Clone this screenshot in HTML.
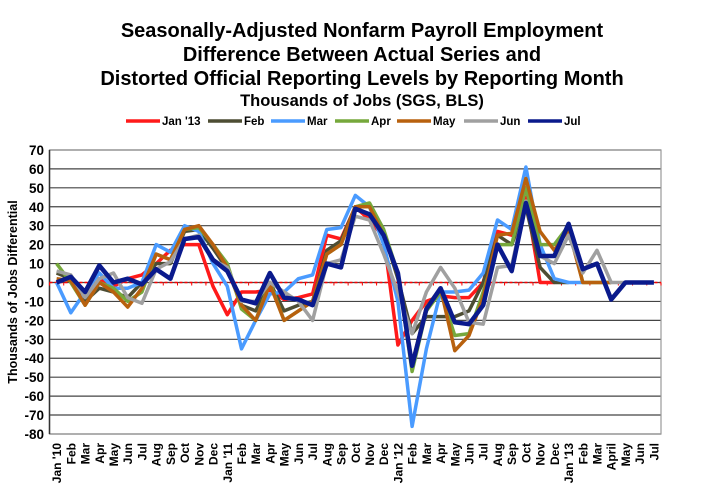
<!DOCTYPE html>
<html><head><meta charset="utf-8"><style>body{margin:0;background:#fff}svg{display:block;font-family:"Liberation Sans",Arial,sans-serif;font-weight:bold}</style></head>
<body>
<svg id="s" width="721" height="503" viewBox="0 0 721 503" xmlns="http://www.w3.org/2000/svg">
<text x="362" y="37" font-size="20" text-anchor="middle">Seasonally-Adjusted Nonfarm Payroll Employment</text>
<text x="362" y="61" font-size="20" text-anchor="middle">Difference Between Actual Series and</text>
<text x="362" y="85" font-size="20" text-anchor="middle">Distorted Official Reporting Levels by Reporting Month</text>
<text x="362" y="106" font-size="16.5" text-anchor="middle">Thousands of Jobs (SGS, BLS)</text>
<text transform="translate(17,292) rotate(-90)" font-size="12.5" text-anchor="middle">Thousands of Jobs Differential</text>
<g id="g"></g>
</svg>
<script>
var s=document.getElementById('g'),ns='http://www.w3.org/2000/svg',h='';
var L=49.5,R=661,T=150,B=434,y0=282.5,k=(B-T)/150,cw=(R-L)/43;
function Y(v){return y0-v*k} function X(i){return L+cw*(i+0.5)}
for(var v=70;v>=-80;v-=10){h+='<line x1="'+L+'" x2="'+R+'" y1="'+Y(v)+'" y2="'+Y(v)+'" stroke="#444" stroke-width="1.2"/>';
h+='<text x="44" y="'+(Y(v)+5)+'" font-size="13.5" text-anchor="end">'+v+'</text>';}
h+='<rect x="'+L+'" y="'+T+'" width="'+(R-L)+'" height="'+(B-T)+'" fill="none" stroke="#999" stroke-width="1.2"/>';
h+='<line x1="'+L+'" x2="'+L+'" y1="'+T+'" y2="'+B+'" stroke="#333" stroke-width="1.5"/>';
h+='<line x1="'+L+'" x2="'+R+'" y1="'+y0+'" y2="'+y0+'" stroke="#f00" stroke-width="1.5" stroke-dasharray="3,2"/>';
for(var i=0;i<=43;i++){h+='<line x1="'+(L+cw*i)+'" x2="'+(L+cw*i)+'" y1="'+y0+'" y2="'+(y0+3)+'" stroke="#f00"/>';}
var lab=["Jan '10","Feb","Mar","Apr","May","Jun","Jul","Aug","Sep","Oct","Nov","Dec","Jan '11","Feb","Mar","Apr","May","Jun","Jul","Aug","Sep","Oct","Nov","Dec","Jan '12","Feb","Mar","Apr","May","Jun","Jul","Aug","Sep","Oct","Nov","Dec","Jan '13","Feb","Mar","April","May","Jun","Jul"];
lab.forEach(function(t,i){h+='<text transform="translate('+(X(i)+4.5)+',443) rotate(-90)" font-size="12" text-anchor="end">'+t+'</text>';});
var S=[
["#ff1a1a",3.5,[0,3,-10,2,-2,2,4,10,17,20,20,-2,-17,-5,-5,-4,-9,-8,-6,25,23,40,33,24,-33,-20,-10,-7,-8,-8,0,27,25,45,0,0]],
["#4d4d33",3.5,[5,2,-10,-3,-5,-8,0,10,10,27,28,18,7,-12,-15,0,-15,-12,-10,17,22,40,40,26,2,-27,-18,-18,-18,-15,0,25,20,40,8,0,0]],
["#4a9bff",3.5,[0,-16,-5,5,-3,-3,0,20,16,30,27,10,-2,-35,-20,-6,-5,2,4,28,29,46,40,20,-10,-76,-35,-5,-5,-4,5,33,28,61,20,2,0,0]],
["#76a83c",3.5,[10,0,-12,0,-3,-10,-5,15,12,28,29,20,10,-14,-20,0,-20,-15,-10,15,20,40,42,28,5,-47,-15,-5,-28,-27,-5,20,20,50,20,20,30,0,0,0]],
["#b8610e",3.5,[2,1,-12,0,-5,-13,-3,15,12,28,30,20,8,-12,-20,-1,-20,-15,-10,15,20,40,40,25,5,-43,-13,-3,-36,-28,-8,25,26,55,27,17,28,0,0,0]],
["#a0a0a0",3.5,[6,4,-8,2,5,-8,-11,7,11,23,25,12,8,-10,-10,0,-5,-10,-20,10,12,35,33,15,-5,-27,-5,8,-3,-21,-22,8,9,43,14,10,25,5,17,0,0]],
["#0a1a8c",4.5,[0,3,-5,9,0,2,-1,7,2,23,24,12,6,-9,-11,5,-8,-9,-12,10,8,39,36,25,5,-44,-14,-3,-21,-22,-12,20,6,42,14,14,31,7,10,-9,0,0,0]]];
S.forEach(function(q){h+='<polyline fill="none" stroke-linejoin="round" stroke="'+q[0]+'" stroke-width="'+q[1]+'" points="'+q[2].map(function(v,i){return X(i).toFixed(1)+','+Y(v).toFixed(1)}).join(' ')+'"/>';});
var lg=[["Jan '13",126],["Feb",208],["Mar",271],["Apr",335],["May",397],["Jun",464],["Jul",528]];
lg.forEach(function(l,i){h+='<line x1="'+l[1]+'" x2="'+(l[1]+34)+'" y1="121" y2="121" stroke="'+S[i][0]+'" stroke-width="3.5"/><text x="'+(l[1]+36)+'" y="125" font-size="11.5">'+l[0]+'</text>';});
s.innerHTML=h;
</script>
</body></html>
